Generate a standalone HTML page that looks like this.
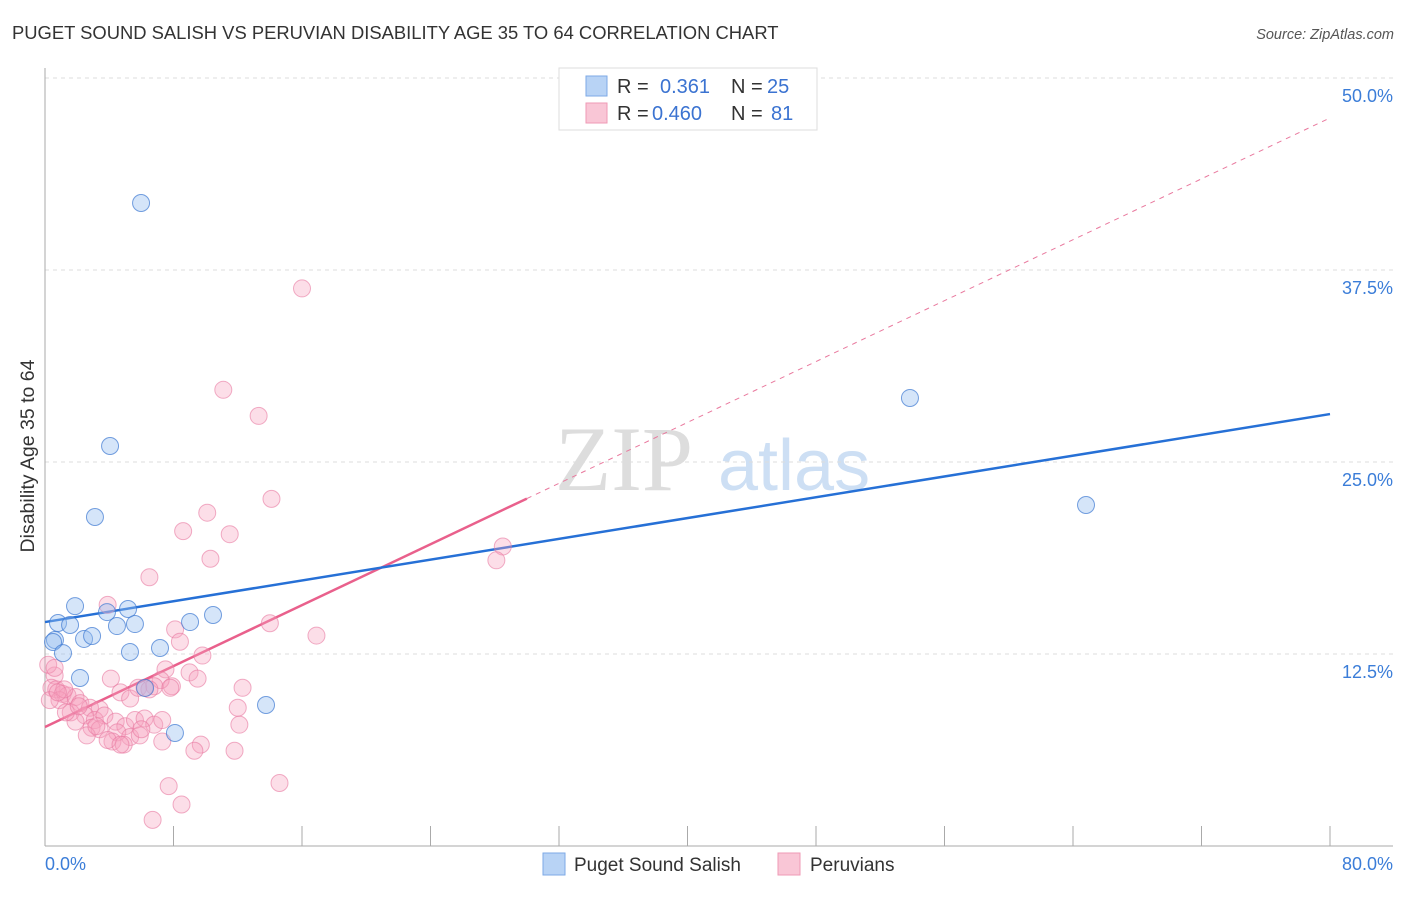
<!DOCTYPE html>
<html><head><meta charset="utf-8"><style>
body{margin:0;background:#fff;font-family:"Liberation Sans",sans-serif}
</style></head><body>
<svg width="1406" height="892" xmlns="http://www.w3.org/2000/svg">
<text x="12" y="39" font-size="18.4" fill="#333">PUGET SOUND SALISH VS PERUVIAN DISABILITY AGE 35 TO 64 CORRELATION CHART</text>
<text x="1394" y="39" font-size="14.5" fill="#555" font-style="italic" text-anchor="end">Source: ZipAtlas.com</text>
<text x="0" y="0" transform="translate(34,456) rotate(-90)" font-size="19.5" fill="#333" text-anchor="middle">Disability Age 35 to 64</text>
<g>
<text x="555" y="490" font-size="92" fill="#ddd" font-family="Liberation Serif,serif">ZIP</text>
<text x="718" y="490" font-size="72" fill="#cddff4">atlas</text>
</g>
<g id="grid"></g>
<g id="axes"></g>
<g id="lines"></g>
<g id="pts"></g>
<g>
<rect x="559" y="68" width="258" height="62" fill="#fff" stroke="#ddd"/>
<rect x="586" y="76" width="21" height="20" fill="#b8d3f5" stroke="#7ea9e6"/>
<rect x="586" y="103" width="21" height="20" fill="#f9c6d6" stroke="#ef9ab5"/>
<text x="617" y="93" font-size="20" fill="#333">R = </text>
<text x="660" y="93" font-size="20" fill="#3b73d1">0.361</text>
<text x="731" y="93" font-size="20" fill="#333">N = </text>
<text x="767" y="93" font-size="20" fill="#3b73d1">25</text>
<text x="617" y="120" font-size="20" fill="#333">R = </text>
<text x="652" y="120" font-size="20" fill="#3b73d1">0.460</text>
<text x="731" y="120" font-size="20" fill="#333">N = </text>
<text x="771" y="120" font-size="20" fill="#3b73d1">81</text>
</g>
<g>
<rect x="543" y="853" width="22" height="22" fill="#b8d3f5" stroke="#7ea9e6"/>
<text x="574" y="871" font-size="19" fill="#333">Puget Sound Salish</text>
<rect x="778" y="853" width="22" height="22" fill="#f9c6d6" stroke="#ef9ab5"/>
<text x="810" y="871" font-size="19" fill="#333">Peruvians</text>
</g>
</svg>
<script>
const yTicks=[12.5,25,37.5,50];
const yTickLabels=["12.5%","25.0%","37.5%","50.0%"];
const xTickLabels=["0.0%","80.0%"];
const blueX=[5.98,4.05,3.11,53.85,64.81,1.87,0.81,1.56,5.17,3.86,4.48,5.60,10.46,9.03,2.43,2.93,0.62,0.50,1.12,5.29,7.16,2.18,6.23,8.09,13.76];
const blueY=[41.86,26.04,21.42,29.17,22.2,15.62,14.52,14.39,15.43,15.23,14.32,14.45,15.04,14.58,13.48,13.67,13.41,13.28,12.56,12.63,12.89,10.94,10.29,7.36,9.18];
const pinkX=[16.0,11.1,13.3,14.1,10.1,8.6,11.5,10.3,6.5,28.5,28.1,3.9,14.0,16.9,8.1,8.4,9.8,7.5,9.0,9.5,7.9,7.2,6.8,12.3,4.1,0.6,0.2,0.4,0.7,1.1,1.4,1.9,0.9,2.2,2.8,3.4,4.7,5.3,5.8,6.5,1.6,2.5,3.1,3.7,4.4,5.0,5.6,6.2,6.8,7.3,1.9,2.9,3.4,4.5,5.3,5.9,4.2,4.9,7.3,9.7,9.3,11.8,12.1,12.0,2.6,0.6,0.3,1.2,14.6,7.7,8.5,6.7,6.2,7.8,0.8,1.3,2.1,3.9,3.2,4.7,6.0];
const pinkY=[36.3,29.7,28.0,22.6,21.7,20.5,20.3,18.7,17.5,19.5,18.6,15.7,14.5,13.7,14.1,13.3,12.4,11.5,11.3,10.9,10.4,10.8,10.4,10.3,10.9,11.1,11.8,10.3,10.2,9.9,9.8,9.7,9.5,9.3,9.0,8.9,10.0,9.6,10.3,10.2,8.7,8.5,8.2,8.5,8.1,7.8,8.2,8.3,7.9,8.2,8.1,7.7,7.6,7.4,7.1,7.2,6.8,6.6,6.8,6.6,6.2,6.2,7.9,9.0,7.2,11.6,9.5,10.2,4.1,3.9,2.7,1.7,10.3,10.3,10.0,8.7,9.1,6.9,7.8,6.6,7.6];
const blueTrend=[14.58,28.12];
const pinkTrend=[7.75,47.4];
const pinkSolidEnd=30;
const NS="http://www.w3.org/2000/svg";
const X0=45,X1=1330,Y0=846,PXPP=192/12.5;
const sx=v=>X0+(X1-X0)*v/80, sy=v=>Y0-v*PXPP;
function mk(tag,attrs,parent){const e=document.createElementNS(NS,tag);for(const k in attrs)e.setAttribute(k,attrs[k]);parent.appendChild(e);return e;}
const grid=document.getElementById('grid'),axes=document.getElementById('axes'),lines=document.getElementById('lines'),pts=document.getElementById('pts');
yTicks.forEach((t,i)=>{
 const l=mk('line',{x1:X0,x2:1393,y1:sy(t),y2:sy(t),stroke:'#ddd','stroke-dasharray':'4,4'},grid);
 
 
 const tx=mk('text',{x:1393,y:sy(t)+24,'font-size':18,fill:'#3b7dd8','text-anchor':'end'},grid);
 tx.textContent=yTickLabels[i];
 
 
});
const ax=mk('line',{x1:X0,x2:1393,y1:Y0,y2:Y0,stroke:'#aaa'},axes);


const ay=mk('line',{x1:X0,x2:X0,y1:68,y2:Y0,stroke:'#aaa'},axes);


for(let i=0;i<=10;i++){
 const t=mk('line',{x1:sx(i*8),x2:sx(i*8),y1:826,y2:Y0,stroke:'#aaa'},axes);
 
 
}
const xl0=mk('text',{x:45,y:870,'font-size':18,fill:'#3b7dd8'},axes);xl0.textContent=xTickLabels[0];


const xl1=mk('text',{x:1393,y:870,'font-size':18,fill:'#3b7dd8','text-anchor':'end'},axes);xl1.textContent=xTickLabels[1];


const pv=x=>pinkTrend[0]+(pinkTrend[1]-pinkTrend[0])*x/80;
const pd=mk('line',{x1:sx(pinkSolidEnd),y1:sy(pv(pinkSolidEnd)),x2:sx(80),y2:sy(pv(80)),stroke:'#e9799e','stroke-width':1,'stroke-dasharray':'5,5'},lines);


const ps=mk('line',{x1:sx(0),y1:sy(pv(0)),x2:sx(pinkSolidEnd),y2:sy(pv(pinkSolidEnd)),stroke:'#e9608c','stroke-width':2.5},lines);


const bl=mk('line',{x1:sx(0),y1:sy(blueTrend[0]),x2:sx(80),y2:sy(blueTrend[1]),stroke:'#2670d6','stroke-width':2.5},lines);


pinkX.forEach((x,i)=>{
 const c=mk('circle',{cx:sx(x),cy:sy(pinkY[i]),r:8.5,fill:'rgba(246,160,188,0.35)',stroke:'rgba(232,120,160,0.6)','stroke-width':1},pts);
 
 
});
blueX.forEach((x,i)=>{
 const c=mk('circle',{cx:sx(x),cy:sy(blueY[i]),r:8.5,fill:'rgba(150,190,240,0.4)',stroke:'rgba(60,120,210,0.7)','stroke-width':1},pts);
 
 
});
</script>
</body></html>
